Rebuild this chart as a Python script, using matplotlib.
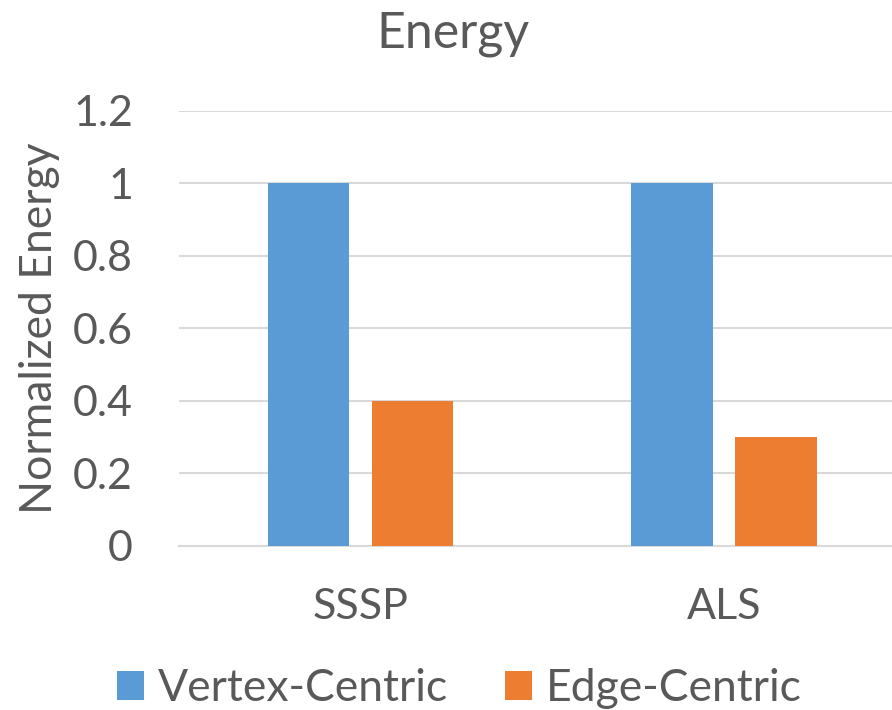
import matplotlib.pyplot as plt
import numpy as np

# bar chart data
categories = ["SSSP", "ALS"]
vertex_centric = [1.0, 1.0]
edge_centric = [0.4, 0.3]
series_names = ["Vertex-Centric", "Edge-Centric"]
y_ticks = [0, 0.2, 0.4, 0.6, 0.8, 1.0, 1.2]
y_tick_labels = ["0", "0.2", "0.4", "0.6", "0.8", "1", "1.2"]

plt.rcParams['font.family'] = ['Lato', 'DejaVu Sans']
text_color = "#595959"
grid_color = "#D9D9D9"

fig = plt.figure(figsize=(8.92, 7.10), dpi=100)
# plot area runs a little past the right edge of the figure
ax = fig.add_axes([0.2004, 0.231, 0.815, 0.6127])

x = np.arange(len(categories))
w = 0.223
off = 0.143
ax.bar(x - off, vertex_centric, w, color="#5B9BD5", label=series_names[0], zorder=3)
ax.bar(x + off, edge_centric, w, color="#ED7D31", label=series_names[1], zorder=3)

ax.set_xlim(-0.5, 1.5)
ax.set_ylim(0, 1.2)
ax.set_yticks(y_ticks)
ax.set_yticklabels(y_tick_labels)
ax.set_xticks(x)
ax.set_xticklabels(categories)

ax.grid(axis="y", color=grid_color, linewidth=1.5, zorder=0)
for s in ["top", "right", "left"]:
    ax.spines[s].set_visible(False)
ax.spines["bottom"].set_color(grid_color)
ax.spines["bottom"].set_linewidth(1.5)
ax.tick_params(axis="both", length=0, labelsize=31, labelcolor=text_color)
ax.tick_params(axis="y", pad=33)
ax.tick_params(axis="x", pad=30)

ax.set_ylabel("Normalized Energy", fontsize=32, color=text_color, labelpad=9)
fig.text(0.508, 0.952, "Energy", ha="center", va="center", fontsize=36, color=text_color)

fig.legend(loc="center", bbox_to_anchor=(0.515, 0.03), ncol=2, frameon=False,
           fontsize=32, handlelength=0.6, handleheight=0.6, handletextpad=0.3,
           columnspacing=1.3, labelcolor=text_color)

fig.savefig("out.png", dpi=100)
